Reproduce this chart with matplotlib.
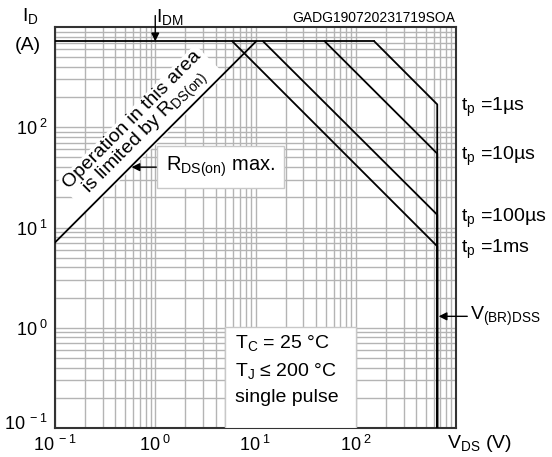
import matplotlib.pyplot as plt
import matplotlib.transforms as mtransforms
from matplotlib.patches import Rectangle

plt.rcParams['font.family'] = ['Liberation Sans', 'DejaVu Sans']
plt.rcParams['mathtext.fontset'] = 'custom'
plt.rcParams['mathtext.rm'] = 'Liberation Sans'
plt.rcParams['mathtext.it'] = 'Liberation Sans:italic'

# SOA data
v_br = 650.0          # V(BR)DSS
i_dm = 720.0          # pulsed drain current limit
rds_on = 0.0141       # ohm, R_DS(on) max line
tp_labels = ['1µs', '10µs', '100µs', '1ms']
knee_v = [153.0, 49.0, 11.9, 5.87]      # V where each curve leaves I_DM
end_i = [169.0, 54.6, 13.4, 6.5]        # A at V(BR)DSS
x_ticks = [0.1, 1, 10, 100]
y_ticks = [0.1, 1, 10, 100]
tick_exp = ['-1', '0', '1', '2']

fig = plt.figure(figsize=(5.52, 4.57), dpi=100)
ax = fig.add_axes([55 / 552, 1 - 428 / 457, 401 / 552, 401 / 457])
ax.set_xscale('log')
ax.set_yscale('log')
ax.set_xlim(0.1, 1000)
ax.set_ylim(0.1, 1000)

grid_c = '#b4b4b4'
ax.grid(True, which='both', color=grid_c, lw=1.0)
ax.set_axisbelow(True)
ax.tick_params(which='both', length=0, labelsize=13, pad=5)
tick_txt = [r'$\mathregular{10^{\ %s}}$' % e for e in tick_exp]
ax.set_xticks(x_ticks)
ax.set_xticklabels(tick_txt)
ax.set_yticks(y_ticks)
ax.set_yticklabels(tick_txt)
ax.xaxis.set_minor_formatter(plt.NullFormatter())
ax.yaxis.set_minor_formatter(plt.NullFormatter())
# lift the lowest y label so it clears the x labels
lab0 = ax.get_yticklabels()[0]
lab0.set_transform(lab0.get_transform() + mtransforms.ScaledTranslation(0, 6 / 100, fig.dpi_scale_trans))
for s in ax.spines.values():
    s.set_color('#333333')
    s.set_linewidth(1.5)

# I_DM limit
ax.plot([0.1, knee_v[0]], [i_dm, i_dm], color='black', lw=1.3, zorder=3)
# pulse curves
for kv, ei in zip(knee_v, end_i):
    ax.plot([kv, v_br, v_br], [i_dm, ei, 0.1], color='black', lw=1.3, zorder=3)
# R_DS(on) limit
ax.plot([0.1, i_dm * rds_on], [0.1 / rds_on, i_dm], color='black', lw=1.3, zorder=3)

# labels for pulse widths
for lab, ei in zip(tp_labels, end_i):
    ax.text(1.012, ei * 0.93, r'$\mathregular{t_p}$ =' + lab, transform=ax.get_yaxis_transform(),
            fontsize=14, va='center', ha='left', clip_on=False)
ax.annotate(r'$\mathregular{V_{(BR)DSS}}$', xy=(v_br, 1.3), xytext=(1.035, 1.3),
            textcoords=('axes fraction', 'data'), fontsize=14, va='center', ha='left',
            arrowprops=dict(arrowstyle='-|>', color='black', lw=1, mutation_scale=12,
                            shrinkA=0, shrinkB=1))

# axis titles
fig.text(30 / 552, 1 - 16 / 457, r'$\mathregular{I_D}$', fontsize=14, ha='center', va='center')
fig.text(28 / 552, 1 - 45 / 457, '(A)', fontsize=14, ha='center', va='center')
fig.text(479 / 552, 1 - 443 / 457, r'$\mathregular{V_{DS}}$ (V)', fontsize=14, ha='center', va='center')
fig.text(455 / 552, 1 - 18 / 457, 'GADG190720231719SOA', fontsize=10, ha='right', va='center')

# I_DM arrow
ax.annotate('', xy=(1.0, i_dm), xytext=(1.0, 1300), annotation_clip=False,
            arrowprops=dict(arrowstyle='-|>', color='black', lw=1, mutation_scale=12,
                            shrinkA=0, shrinkB=0))
ax.text(1.02, 1250, r'$\mathregular{I_{DM}}$', fontsize=14, ha='left', va='center', clip_on=False)

# R_DS(on) region text
ax.text(0.70, 100, 'Operation in this area\nis limited by ' + r'$\mathregular{R_{DS(on)}}$',
        rotation=45, rotation_mode='anchor', fontsize=14, ha='center', va='center',
        linespacing=0.95, zorder=2,
        bbox=dict(boxstyle='square,pad=0.2', fc='white', ec='none'))
ax.annotate(r'$\mathregular{R_{DS(on)}}$ max.', xy=(0.58, 40), xytext=(1.28, 40),
            fontsize=14.5, ha='left', va='center', zorder=4,
            bbox=dict(boxstyle='square,pad=0.45', fc='white', ec='#c8c8c8', lw=1),
            arrowprops=dict(arrowstyle='-|>', color='black', lw=1, mutation_scale=12,
                            shrinkA=0, shrinkB=0))

# conditions box, sitting on the bottom axis
ax.add_patch(Rectangle((4.95, 0.1), 100 - 4.95, 1.02 - 0.1, fc='white', ec='#c8c8c8',
                       lw=1, zorder=3.5))
ax.text(6.24, 0.385, 'T$\\mathregular{_C}$ = 25 °C\nT$\\mathregular{_J}$ ≤ 200 °C\nsingle pulse',
        fontsize=14, ha='left', va='center', linespacing=1.55, zorder=4)

fig.savefig('out.png', dpi=100)
